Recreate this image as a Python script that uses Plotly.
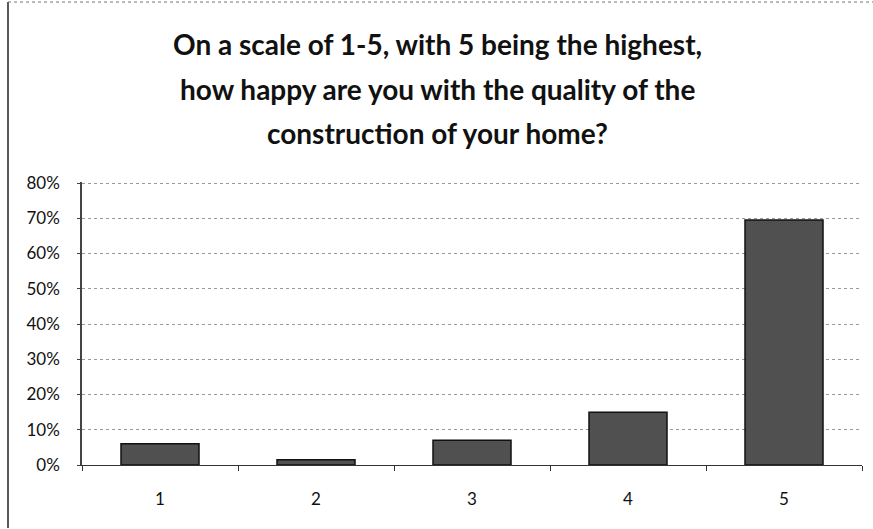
import plotly.graph_objects as go

categories = ["1", "2", "3", "4", "5"]
values = [0.06, 0.015, 0.07, 0.15, 0.695]
y_ticks = [0, 0.1, 0.2, 0.3, 0.4, 0.5, 0.6, 0.7, 0.8]
y_tick_labels = ["0%", "10%", "20%", "30%", "40%", "50%", "60%", "70%", "80%"]
title_lines = [
    "On a scale of 1-5, with 5 being the highest,",
    "how happy are you with the quality of the",
    "construction of your home?",
]

W, H = 873, 529
L, R, T, B = 82, 11, 182, 64

fig = go.Figure(go.Bar(
    x=categories, y=values,
    marker=dict(color="#505050", line=dict(color="#111111", width=1.5)),
))

pw = W - L - R
ph = H - T - B
def px_x(p):
    return (p - L) / pw
def px_y(p):
    return (H - B - p) / ph

title_font = dict(family="Lato, Open Sans, sans-serif", size=28, color="#111111", weight="bold")
line_centers = [44, 89, 133]
annotations = [
    dict(text=t, xref="paper", yref="paper", x=px_x(437), y=px_y(c),
         xanchor="center", yanchor="middle", showarrow=False, font=title_font)
    for t, c in zip(title_lines, line_centers)
]

tick_font = dict(family="Lato, Open Sans, sans-serif", size=17, color="#111111")

fig.update_layout(
    width=W, height=H,
    margin=dict(l=L, r=R, t=T, b=B),
    paper_bgcolor="white", plot_bgcolor="white",
    bargap=0.5,
    showlegend=False,
    annotations=annotations,
    font=dict(family="Lato, Open Sans, sans-serif", size=14, color="#111111"),
    xaxis=dict(
        showline=True, linecolor="#333333", linewidth=1,
        ticks="outside", ticklen=5, tickcolor="#333333",
        tickson="boundaries", showgrid=False,
        tickfont=tick_font,
        ticklabelstandoff=19,
    ),
    yaxis=dict(
        range=[0, 0.803],
        tickvals=y_ticks, ticktext=y_tick_labels,
        showline=True, linecolor="#444444", linewidth=1.5,
        ticks="outside", ticklen=3, tickcolor="#444444",
        showgrid=True, gridcolor="#9a9a9a", griddash="dot", gridwidth=1,
        tickfont=tick_font,
        ticklabelstandoff=14,
        zeroline=False,
    ),
    shapes=[
        dict(type="line", xref="paper", yref="paper",
             x0=px_x(8), x1=px_x(8), y0=px_y(2), y1=px_y(528),
             line=dict(color="#222222", width=1.5)),
        dict(type="line", xref="paper", yref="paper",
             x0=px_x(8), x1=px_x(873), y0=px_y(2), y1=px_y(2),
             line=dict(color="#777777", width=1, dash="dot")),
    ],
)

fig.write_html("out.html", config={"displayModeBar": False},
               post_script="document.body.style.margin='0';document.body.style.padding='0';")
